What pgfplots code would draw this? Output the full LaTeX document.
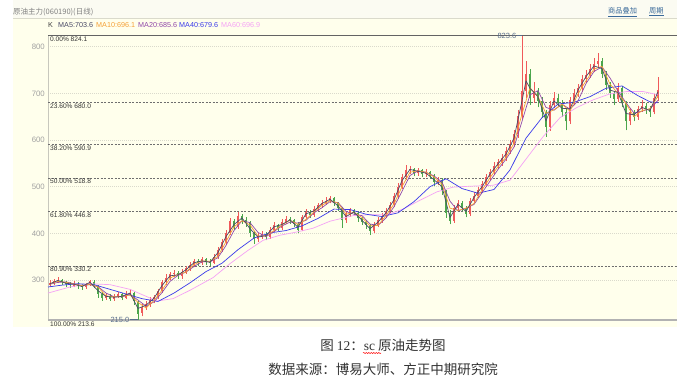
\documentclass[border=0pt]{standalone}
\usepackage{fontspec}
\setmainfont{Liberation Sans}
\newfontfamily\cjk{Noto Sans CJK SC}
\newfontfamily\serif{Liberation Serif}
\usepackage{pgfplots}
\pgfplotsset{compat=1.18}
\usepackage{pgfplotstable}
\usetikzlibrary{decorations.pathmorphing}
\definecolor{bgmain}{HTML}{FFFFEC}
\definecolor{bghead}{HTML}{FBFBF2}
\definecolor{cup}{HTML}{F05A5A}
\definecolor{cdn}{HTML}{4CA64C}
\definecolor{maA}{HTML}{4A4A66}
\definecolor{maB}{HTML}{F5A035}
\definecolor{maC}{HTML}{9048A8}
\definecolor{maD}{HTML}{3A3AEA}
\definecolor{maE}{HTML}{F5A2F5}
\definecolor{fib}{HTML}{6E6E6E}
\definecolor{tickc}{HTML}{A0A0A0}
\definecolor{gridc}{HTML}{DADACC}
\definecolor{linkc}{HTML}{3A6A9A}
\definecolor{markc}{HTML}{5A6E8C}
\definecolor{capc}{HTML}{333333}

\pgfplotstableread{
x o h l c
50 290 300 286 293
54 293 303 289 297
58 298 306 293 300
62 300 303 290 295
66 295 298 285 291
70 291 295 283 289
74 288 297 284 292
78 292 295 281 287
82 287 291 279 285
86 285 294 281 291
90 291 301 288 297
94 296 299 282 287
98 287 290 262 270
102 270 274 255 262
106 262 272 258 267
110 266 270 255 260
114 260 270 256 265
118 265 274 261 269
122 269 272 257 262
126 262 276 259 270
130 270 280 265 273
134 272 275 246 255
138 252 254 215 228
142 230 248 222 242
146 242 256 236 249
150 249 263 243 257
154 257 268 250 263
158 263 281 259 276
162 276 300 272 296
166 296 312 290 305
170 305 318 299 312
174 312 322 306 316
178 316 320 302 308
182 308 324 303 318
186 318 330 313 325
190 325 338 320 332
194 332 346 327 341
198 341 345 331 337
202 337 350 332 344
206 344 347 333 339
210 339 344 331 337
214 337 355 334 350
218 350 370 346 365
222 365 388 360 381
226 381 408 376 401
230 401 432 396 426
234 426 430 407 414
238 414 445 410 438
242 438 442 421 429
246 429 434 414 424
250 424 427 392 401
254 401 405 378 388
258 388 400 382 394
262 394 405 388 399
266 399 403 385 392
270 392 413 388 408
274 408 424 403 418
278 418 421 404 411
282 411 431 407 425
286 425 437 420 431
290 431 436 421 428
294 428 431 414 421
298 421 424 400 408
302 408 440 404 435
306 435 452 430 446
310 446 451 433 440
314 440 458 436 453
318 453 466 448 460
322 460 472 455 466
326 466 477 461 470
330 470 481 464 475
334 475 478 459 465
338 465 468 448 455
342 455 457 412 428
346 428 447 423 441
350 441 455 436 449
354 449 453 437 444
358 444 447 425 432
362 432 436 418 425
366 425 429 410 418
370 418 421 396 405
374 405 424 401 418
378 418 434 413 428
382 428 444 423 438
386 438 455 433 448
390 448 467 444 461
394 461 486 456 479
398 479 507 474 500
402 500 528 495 521
406 521 546 515 535
410 535 545 528 538
414 538 541 522 529
418 529 541 524 535
422 535 538 520 527
426 527 537 521 531
430 531 534 516 524
434 524 527 502 509
438 509 521 503 515
442 515 518 483 490
446 490 493 433 444
450 444 449 419 427
454 427 461 423 455
458 455 472 449 466
462 466 469 447 455
466 455 458 434 441
470 441 475 437 470
474 470 488 465 481
478 481 499 476 492
482 492 512 486 505
486 505 527 500 520
490 520 539 514 531
494 531 553 525 545
498 545 560 538 552
502 552 570 545 561
506 561 585 555 576
510 576 600 570 591
514 591 622 585 612
518 612 664 605 652
522 652 824 645 705
526 705 770 690 742
530 742 752 675 690
534 690 725 680 706
538 706 712 670 684
542 684 692 648 660
546 660 665 607 628
550 628 684 620 676
554 676 702 668 690
558 690 698 670 680
562 680 686 650 660
566 660 666 621 640
570 640 692 634 685
574 685 710 676 700
578 700 720 692 711
582 711 740 704 731
586 731 750 722 740
590 740 764 733 752
594 752 775 745 763
598 763 787 755 770
602 770 776 733 742
606 742 748 708 718
610 718 725 690 700
614 700 706 675 688
618 688 722 682 712
622 712 716 670 680
626 680 684 621 641
630 641 668 632 660
634 660 665 640 650
638 650 673 644 666
642 666 685 660 673
646 673 679 656 667
650 667 673 650 660
654 660 698 655 690
658 690 736 684 708
}\candles

\begin{document}
\begin{tikzpicture}[x=1pt,y=1pt]
\path[use as bounding box] (0,0) rectangle (693,-389);
\fill[white] (0,0) rectangle (693,-389);
\fill[bghead] (13,0) rectangle (677,-18);
\fill[bgmain] (13,-18) rectangle (677,-327);
\draw[gridc, line width=0.5pt] (13,-18) -- (677,-18);
\node[anchor=west, inner sep=0pt, text=gray, font=\cjk\fontsize{7.5}{8}\selectfont] at (13,-12) {原油主力(060190)(日线)};
\node[anchor=west, inner sep=0pt, text=linkc, font=\cjk\fontsize{7.2}{8}\selectfont] at (608,-12) {\underline{商品叠加}};
\node[anchor=west, inner sep=0pt, text=linkc, font=\cjk\fontsize{7.2}{8}\selectfont] at (649,-12) {\underline{周期}};
% legend row
\begin{scope}[every node/.style={anchor=west, inner sep=0pt, font=\fontsize{7.2}{8}\selectfont}]
\node[text=darkgray] at (48,-25) {K};
\node[text=maA] at (58,-25) {MA5:703.6};
\node[text=maB] at (96,-25) {MA10:696.1};
\node[text=maC] at (138,-25) {MA20:685.6};
\node[text=maD] at (179,-25) {MA40:679.6};
\node[text=maE] at (221,-25) {MA60:696.9};
\end{scope}
% caption
\node[text=capc, font=\cjk\fontsize{13.5}{15}\selectfont] at (383,-345) {图 {\serif 12}：{\serif sc} 原油走势图};
\node[text=capc, font=\cjk\fontsize{13.5}{15}\selectfont] at (383,-369.5) {数据来源：博易大师、方正中期研究院};
\draw[red, line width=0.5pt, decorate, decoration={snake, amplitude=0.6pt, segment length=2.5pt}] (363,-353) -- (381,-353);

\begin{axis}[
  at={(48pt,-320.3pt)}, anchor=south west,
  scale only axis, width=629pt, height=284.8pt,
  xmin=48, xmax=677, ymin=213.6, ymax=824.1,
  clip=false,
  axis line style={draw=none},
  xtick=\empty,
  ytick={300,400,500,600,700,800},
  major tick length=0pt,
  ymajorgrids,
  grid style={draw=gridc, line width=0.6pt, dash pattern=on 1pt off 1pt},
  /pgf/number format/assume math mode=true,
  yticklabel style={text=tickc, font=\fontsize{7.8}{8}\selectfont, inner sep=0pt, xshift=-3pt},
]
% left axis line
\draw[draw=gridc!80!gray, line width=0.8pt] (axis cs:48,213.6) -- (axis cs:48,824.1);
% fibonacci lines
\foreach \v in {680.0,590.9,518.8,446.8,330.2}{
  \edef\tmp{\noexpand\draw[fib, line width=0.8pt, dash pattern=on 2pt off 1.5pt] (axis cs:48,\v) -- (axis cs:677,\v);}\tmp
}
\draw[draw=fib!90!black, line width=0.8pt] (axis cs:48,824.1) -- (axis cs:677,824.1);
\draw[draw=black!30, line width=1.8pt] (axis cs:48,213.6) -- (axis cs:677,213.6);
\begin{scope}[every node/.style={anchor=north west, inner sep=1pt, text=black!80, font=\fontsize{6.6}{7}\selectfont}]
\node at (axis cs:49,824.1) {0.00\% 824.1};
\node at (axis cs:49,680.0) {23.60\% 680.0};
\node at (axis cs:49,590.9) {38.20\% 590.9};
\node at (axis cs:49,518.8) {50.00\% 518.8};
\node at (axis cs:49,446.8) {61.80\% 446.8};
\node at (axis cs:49,330.2) {80.90\% 330.2};
\node at (axis cs:49,213.6) {100.00\% 213.6};
\end{scope}

% candles: wicks
\addplot[draw=none, mark=none, forget plot,
  x filter/.expression={\thisrow{c}>=\thisrow{o} ? x : nan},
  error bars/.cd, y dir=plus, y explicit, error mark=none,
  error bar style={draw=cup, line width=0.7pt, line cap=butt}]
  table[x=x, y=l, y error expr=\thisrow{h}-\thisrow{l}] {\candles};
\addplot[draw=none, mark=none, forget plot,
  x filter/.expression={\thisrow{c}<\thisrow{o} ? x : nan},
  error bars/.cd, y dir=plus, y explicit, error mark=none,
  error bar style={draw=cdn, line width=0.7pt, line cap=butt}]
  table[x=x, y=l, y error expr=\thisrow{h}-\thisrow{l}] {\candles};
% candles: bodies
\addplot[draw=none, mark=none, forget plot,
  x filter/.expression={\thisrow{c}>=\thisrow{o} ? x : nan},
  error bars/.cd, y dir=plus, y explicit, error mark=none,
  error bar style={draw=cup, line width=2.5pt, line cap=butt}]
  table[x=x, y=o, y error expr=\thisrow{c}-\thisrow{o}] {\candles};
\addplot[draw=none, mark=none, forget plot,
  x filter/.expression={\thisrow{c}<\thisrow{o} ? x : nan},
  error bars/.cd, y dir=plus, y explicit, error mark=none,
  error bar style={draw=cdn, line width=2.5pt, line cap=butt}]
  table[x=x, y=c, y error expr=\thisrow{o}-\thisrow{c}] {\candles};

% MA60
\addplot[maE, line width=0.7pt, mark=none, line join=round] coordinates {
(48,272) (70,285) (90,292) (110,290) (130,280) (145,266) (157,255) (173,260) (190,278) (213,305) (230,335) (247,362) (263,385) (280,396) (297,403) (313,411) (330,426) (353,438) (370,440) (387,440) (403,452) (420,471) (437,489) (453,499) (470,501) (493,503) (510,514) (527,562) (543,607) (560,648) (577,670) (593,686) (610,699) (627,704) (643,704) (658,697)};
% MA40
\addplot[maD, line width=0.7pt, mark=none, line join=round] coordinates {
(48,285) (62,289) (78,292) (94,290) (110,280) (126,270) (142,260) (158,254) (174,272) (190,294) (206,318) (222,336) (238,365) (254,390) (270,401) (286,406) (302,416) (318,432) (334,452) (350,451) (366,441) (382,436) (398,444) (414,468) (430,500) (446,517) (462,496) (478,486) (494,494) (510,536) (526,604) (542,648) (558,677) (574,681) (590,693) (606,711) (622,716) (638,695) (650,682) (658,680)};
% MA20
\addplot[maC, line width=0.7pt, mark=none, line join=round] coordinates {
(50,291) (58,295) (66,296) (74,292) (82,288) (90,290) (98,286) (106,272) (114,264) (122,264) (130,269) (138,257) (146,244) (154,253) (162,273) (170,297) (178,310) (186,317) (194,329) (202,339) (210,339) (218,348) (226,374) (234,406) (242,427) (250,423) (258,402) (266,393) (274,404) (282,416) (290,424) (298,422) (306,428) (314,444) (322,455) (330,468) (338,466) (346,447) (354,441) (362,438) (370,420) (378,417) (386,433) (394,457) (402,490) (410,524) (418,534) (426,531) (434,523) (442,510) (450,469) (458,448) (466,454) (474,462) (482,487) (490,512) (498,537) (506,559) (514,585) (522,640) (530,697) (538,706) (546,670) (554,664) (562,677) (570,666) (578,684) (586,721) (594,747) (602,757) (610,733) (618,705) (626,680) (634,658) (642,662) (650,667) (658,685)};
% MA10
\addplot[maB, line width=0.7pt, mark=none, line join=round] coordinates {
(50,292) (58,297) (66,295) (74,291) (82,288) (90,291) (98,285) (106,266) (114,264) (122,265) (130,268) (138,252) (146,240) (154,256) (162,278) (170,304) (178,312) (186,317) (194,333) (202,341) (210,340) (218,351) (226,382) (234,414) (242,427) (250,418) (258,394) (266,395) (274,406) (282,418) (290,428) (298,419) (306,430) (314,446) (322,460) (330,470) (338,465) (346,441) (354,445) (362,434) (370,416) (378,417) (386,438) (394,463) (402,500) (410,531) (418,534) (426,531) (434,521) (442,505) (450,454) (458,449) (466,454) (474,464) (482,493) (490,519) (498,543) (506,563) (514,593) (522,656) (530,712) (538,693) (546,657) (554,665) (562,677) (570,662) (578,699) (586,727) (594,752) (602,758) (610,720) (618,700) (626,678) (634,650) (642,663) (650,667) (658,694)};
% MA5
\addplot[maA, line width=0.7pt, mark=none, line join=round] coordinates {
(50,292) (58,299) (66,293) (74,291) (82,286) (90,295) (98,277) (106,265) (114,263) (122,265) (130,272) (138,239) (146,246) (154,261) (162,288) (170,309) (178,311) (186,322) (194,337) (202,341) (210,338) (218,359) (226,393) (234,419) (242,433) (250,410) (258,392) (266,395) (274,414) (282,419) (290,429) (298,413) (306,442) (314,448) (322,464) (330,473) (338,459) (346,436) (354,446) (362,428) (370,410) (378,424) (386,444) (394,472) (402,513) (410,537) (418,533) (426,529) (434,515) (442,500) (450,434) (458,462) (466,447) (474,477) (482,500) (490,527) (498,549) (506,570) (514,604) (522,684) (526,727) (530,711) (538,693) (546,641) (554,684) (562,668) (570,667) (578,707) (586,736) (594,759) (602,753) (610,707) (618,702) (626,657) (634,654) (642,670) (650,663) (658,703.6)};

% high / low markers
\draw[markc, line width=0.6pt] (axis cs:517,823.6) -- (axis cs:522,823.6);
\node[anchor=east, inner sep=0.5pt, text=markc, font=\fontsize{7.5}{8}\selectfont] at (axis cs:517,823.6) {823.6};
\draw[markc, line width=0.6pt] (axis cs:130,215.0) -- (axis cs:138,215.0);
\node[anchor=east, inner sep=0.5pt, text=markc, font=\fontsize{7.5}{8}\selectfont] at (axis cs:130,215.0) {215.0};
\end{axis}
\end{tikzpicture}
\end{document}
